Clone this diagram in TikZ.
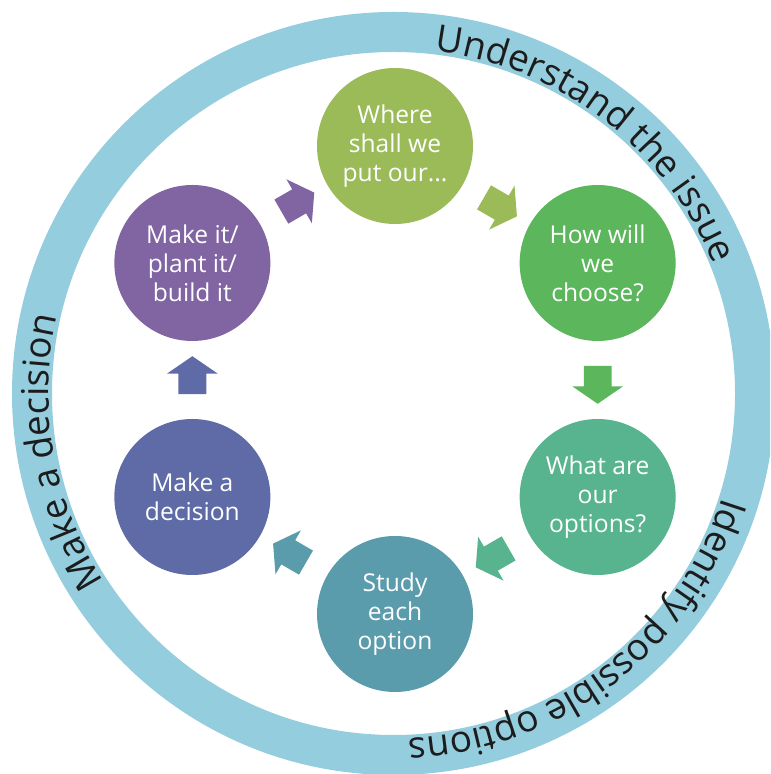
\documentclass[tikz,border=0pt]{standalone}
\usepackage{fontspec}
\setmainfont{Open Sans}
\usetikzlibrary{shapes.arrows,decorations.text,calc}
\definecolor{cOlive}{HTML}{9BBB59}
\definecolor{cGreen}{HTML}{5CB65C}
\definecolor{cSea}{HTML}{58B48F}
\definecolor{cTeal}{HTML}{5A9CAC}
\definecolor{cBlue}{HTML}{5E6BA6}
\definecolor{cPurple}{HTML}{8164A2}
\definecolor{cRing}{HTML}{93CDDE}
\definecolor{cRingText}{HTML}{1C1C1C}
\newcommand\myringfont{\fontsize{18.5}{20}\selectfont\color{cRingText}}
\begin{document}
\begin{tikzpicture}[x=0.5pt,y=0.5pt,
  stage/.style={circle, minimum size=78pt, inner sep=0pt, text=white, align=center,
    font=\fontsize{12.3}{14.5}\selectfont},
  blockarrow/.style={single arrow, minimum height=19pt, inner xsep=0pt, inner ysep=6.75pt,
    single arrow head extend=5.75pt, single arrow tip angle=111, draw=none}
]
\useasboundingbox (0,0) rectangle (770,774);
\clip (0,0) rectangle (770,774);
\coordinate (R) at (393.5,380.5);
\coordinate (H) at (395,394);
% ring
\draw[line width=20pt, cRing] (R) circle[radius=361.5];
% ring labels
\path[decorate, decoration={text along path, text align=center,
  text={|\myringfont|Understand the issue}}]
  ($(R)+(112.5:345)$) arc[start angle=112.5, end angle=-7.5, radius=345];
\path[decorate, decoration={text along path, text align=center,
  text={|\myringfont|Identify possible options}}]
  ($(R)+(7.5:345)$) arc[start angle=7.5, end angle=-112.5, radius=345];
\path[decorate, decoration={text along path, text align=center,
  text={|\myringfont|Make a decision}}]
  ($(R)+(240:345)$) arc[start angle=240, end angle=140, radius=345];
% stages
\node[stage, fill=cOlive]  (s1) at ($(H)+(90:234)$)  {Where\\shall we\\put our...};
\node[stage, fill=cGreen]  (s2) at ($(H)+(30:234)$)  {How will\\we\\choose?};
\node[stage, fill=cSea]    (s3) at ($(H)+(-30:234)$) {What are\\our\\options?};
\node[stage, fill=cTeal]   (s4) at ($(H)+(-90:234)$) {Study\\each\\option};
\node[stage, fill=cBlue]   (s5) at ($(H)+(-150:234)$) {Make a\\decision};
\node[stage, fill=cPurple] (s6) at ($(H)+(150:234)$) {Make it/\\plant it/\\build it};
% arrows
\node[blockarrow, fill=cOlive,  rotate=-30]  (a1) at ($(s1)!0.5!(s2)$) {};
\node[blockarrow, fill=cGreen,  rotate=-90]  (a2) at ($(s2)!0.5!(s3)$) {};
\node[blockarrow, fill=cSea,    rotate=-150] (a3) at ($(s3)!0.5!(s4)$) {};
\node[blockarrow, fill=cTeal,   rotate=150]  (a4) at ($(s4)!0.5!(s5)$) {};
\node[blockarrow, fill=cBlue,   rotate=90]   (a5) at ($(s5)!0.5!(s6)$) {};
\node[blockarrow, fill=cPurple, rotate=30]   (a6) at ($(s6)!0.5!(s1)$) {};
\end{tikzpicture}
\end{document}
